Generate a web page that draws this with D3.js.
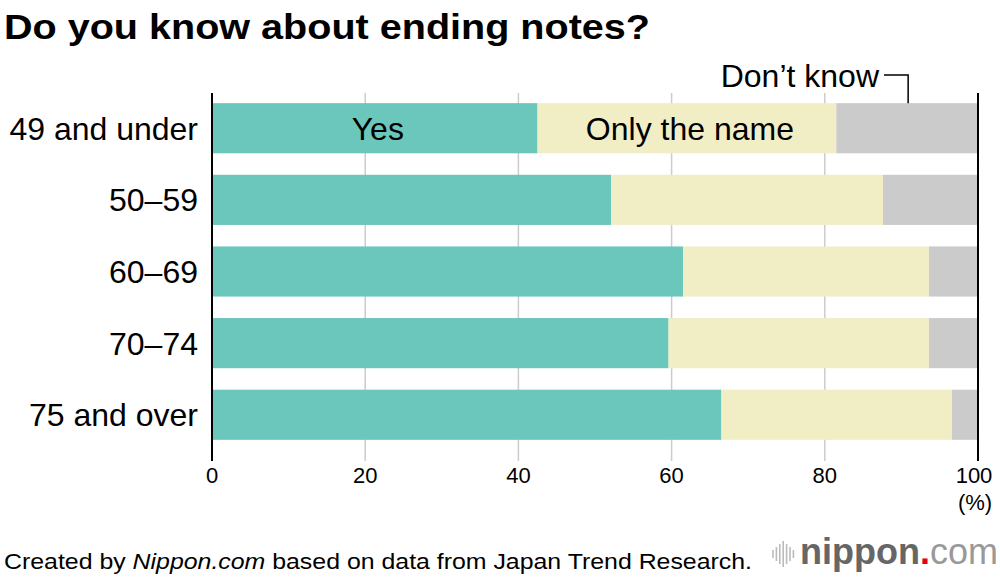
<!DOCTYPE html>
<html>
<head>
<meta charset="utf-8">
<script src="https://cdn.jsdelivr.net/npm/d3@7"></script>
<style>
  html, body { margin: 0; padding: 0; background: #fff; }
  svg { display: block; font-family: "Liberation Sans", Arial, Helvetica, sans-serif; }
</style>
</head>
<body>
<svg id="chart" width="1000" height="578"></svg>
<script>
const categories = ["49 and under", "50–59", "60–69", "70–74", "75 and over"];
const seriesNames = ["Yes", "Only the name", "Don’t know"];
const yesValues = [42.5, 52.1, 61.5, 59.6, 66.5];
const nameValues = [39.0, 35.5, 32.1, 34.0, 30.1];
const dontKnowValues = [18.5, 12.4, 6.4, 6.4, 3.4];
const tickValues = [0, 20, 40, 60, 80, 100];
const colors = ["#6bc6bb", "#f1eec6", "#cbcbcb"];

const svg = d3.select("#chart");
const x = d3.scaleLinear().domain([0, 100]).range([212, 978]);
const y = d3.scaleBand().domain(categories).range([96, 447]).paddingInner(0.3).paddingOuter(0.1);

const rows = categories.map((c, i) => ({
  cat: c,
  "Yes": yesValues[i],
  "Only the name": nameValues[i],
  "Don’t know": dontKnowValues[i]
}));
const stacked = d3.stack().keys(seriesNames)(rows);

// Title
svg.append("text").attr("x", 4).attr("y", 39)
  .attr("font-size", 35).attr("font-weight", "bold").attr("fill", "#000")
  .attr("textLength", 646).attr("lengthAdjust", "spacingAndGlyphs")
  .text("Do you know about ending notes?");

// Gridlines
svg.append("g").selectAll("line").data(tickValues.slice(1, -1)).join("line")
  .attr("x1", d => x(d)).attr("x2", d => x(d))
  .attr("y1", 93).attr("y2", 461)
  .attr("stroke", "#cccccc").attr("stroke-width", 1.5);

// Bars
svg.append("g").selectAll("g").data(stacked).join("g")
  .attr("fill", (d, i) => colors[i])
  .selectAll("rect").data(d => d).join("rect")
  .attr("x", d => x(d[0]))
  .attr("width", d => x(d[1]) - x(d[0]))
  .attr("y", d => y(d.data.cat))
  .attr("height", y.bandwidth());

// Axis lines (0 and 100)
svg.append("g").selectAll("line").data([0, 100]).join("line")
  .attr("x1", d => x(d)).attr("x2", d => x(d))
  .attr("y1", 93).attr("y2", 461)
  .attr("stroke", "#000").attr("stroke-width", 2);

// Category labels
svg.append("g").selectAll("text").data(categories).join("text")
  .attr("x", 198).attr("y", d => y(d) + y.bandwidth() / 2)
  .attr("dy", "0.36em").attr("text-anchor", "end")
  .attr("font-size", 32).attr("fill", "#000")
  .text(d => d);

// In-bar labels for first row
const first = categories[0];
const inLabels = [
  { name: seriesNames[0], s: 0 },
  { name: seriesNames[1], s: 1 }
];
svg.append("g").selectAll("text").data(inLabels).join("text")
  .attr("x", d => (x(stacked[d.s][0][0]) + x(stacked[d.s][0][1])) / 2 + 3)
  .attr("y", y(first) + y.bandwidth() / 2)
  .attr("dy", "0.36em").attr("text-anchor", "middle")
  .attr("font-size", 32).attr("fill", "#000")
  .text(d => d.name);

// Don't know legend with leader
const dkMid = (x(stacked[2][0][0]) + x(stacked[2][0][1])) / 2;
svg.append("text").attr("x", 879).attr("y", 75).attr("dy", "0.36em")
  .attr("text-anchor", "end").attr("font-size", 32).attr("fill", "#000")
  .text(seriesNames[2]);
svg.append("path")
  .attr("d", `M${884},75 H${dkMid + 1} V${y(first)}`)
  .attr("fill", "none").attr("stroke", "#000").attr("stroke-width", 1.5);

// Tick labels
svg.append("g").selectAll("text").data(tickValues).join("text")
  .attr("x", d => x(d) - (d === 100 ? 4 : 0)).attr("y", 483)
  .attr("text-anchor", "middle").attr("font-size", 22).attr("fill", "#000")
  .text(d => d);
svg.append("text").attr("x", 975).attr("y", 510)
  .attr("text-anchor", "middle").attr("font-size", 22).attr("fill", "#000")
  .text("(%)");

// Footer
const foot = svg.append("text").attr("x", 4).attr("y", 569)
  .attr("font-size", 22).attr("fill", "#000")
  .attr("textLength", 748).attr("lengthAdjust", "spacingAndGlyphs");
foot.append("tspan").text("Created by ");
foot.append("tspan").attr("font-style", "italic").text("Nippon.com");
foot.append("tspan").text(" based on data from Japan Trend Research.");

// Logo
const logo = svg.append("g");
const barH = [8, 14, 20, 26, 20, 14, 8];
logo.selectAll("line").data(barH).join("line")
  .attr("x1", (d, i) => 773 + i * 3.4).attr("x2", (d, i) => 773 + i * 3.4)
  .attr("y1", d => 554 - d / 2).attr("y2", d => 554 + d / 2)
  .attr("stroke", "#bbbbbb").attr("stroke-width", 1.6);
const lt = logo.append("text").attr("x", 800).attr("y", 564).attr("font-size", 36);
lt.append("tspan").attr("font-weight", "bold").attr("fill", "#666666").text("nippon");
lt.append("tspan").attr("fill", "#e60012").attr("font-weight", "bold").text(".");
lt.append("tspan").attr("fill", "#999999").attr("font-weight", "300").text("com");
</script>
</body>
</html>
